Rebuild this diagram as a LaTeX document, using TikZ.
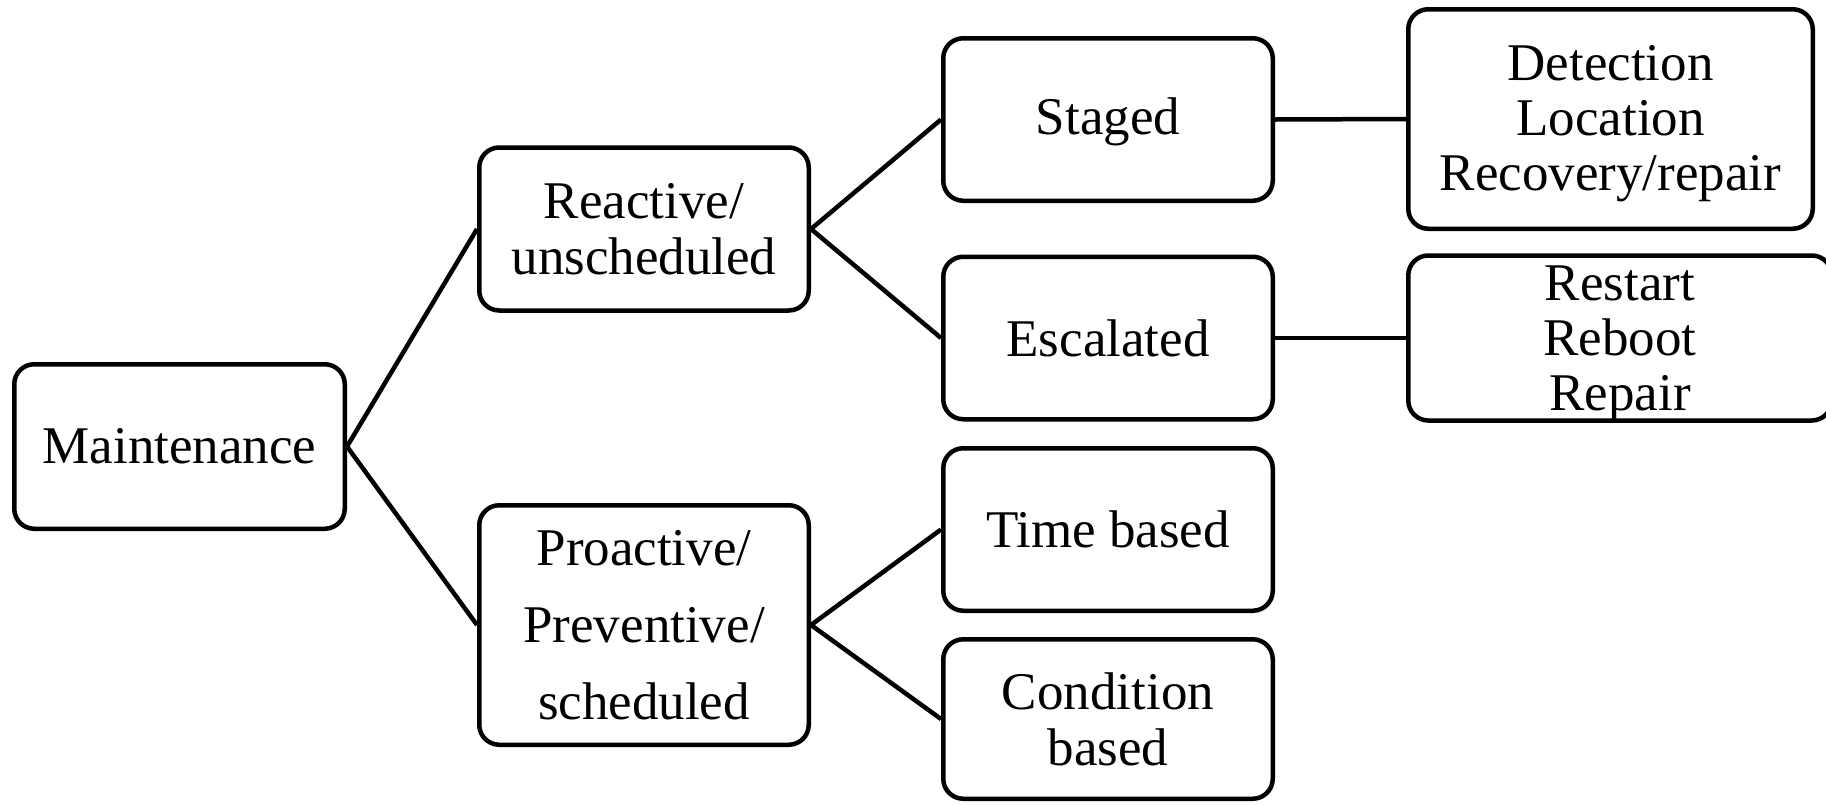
\documentclass[tikz,border=0pt]{standalone}
\usepackage{fontspec}
\setmainfont{Liberation Serif}
\begin{document}
\begin{tikzpicture}[x=1pt,y=-1pt,
  box/.style={draw=black, line width=4.5pt, rounded corners=20pt, fill=white,
    align=center, inner sep=0pt, font=\fontsize{53}{56}\selectfont,
    minimum width=329.5pt, minimum height=163pt},
  link/.style={draw=black, line width=4.5pt}]
  \useasboundingbox (0,0) rectangle (1826,804);
  \clip (0,0) rectangle (1826,804);

  % root and first level
  \node[box, minimum width=330.5pt, minimum height=164.5pt] (maint) at (179.5,446.5) {Maintenance};
  \node[box] (react) at (644,229) {Reactive/\\unscheduled};
  \node[box, minimum height=239.5pt] (proact) at (644,625)
    {Proactive/\\[21pt]Preventive/\\[21pt]scheduled};

  % second level
  \node[box, minimum height=162.5pt] (staged) at (1108,119.5) {\raisebox{-2pt}[\height][\depth]{Staged}};
  \node[box, minimum height=162.5pt] (escal) at (1108,338) {Escalated};
  \node[box, minimum height=162.5pt] (time) at (1108,529.5) {Time based};
  \node[box, minimum height=159.5pt] (cond) at (1108,719) {Condition\\based};

  % third level: text lowered a little inside the boxes
  \node[box, minimum width=404.5pt, minimum height=219.5pt, font=\fontsize{53}{55}\selectfont]
    (steps) at (1610.5,119) {\raisebox{-5pt}[\height][\depth]{\begin{tabular}{@{}c@{}}Detection\\Location\\Recovery/repair\end{tabular}}};
  \node[box, minimum width=423.5pt, minimum height=163.5pt, font=\fontsize{53}{55}\selectfont]
    (actions) at (1620,338) {\raisebox{-6pt}[\height][\depth]{\begin{tabular}{@{}c@{}}Restart\\Reboot\\Repair\end{tabular}}};

  % connectors
  \draw[link] (maint.east) -- (react.west);
  \draw[link] (maint.east) -- (proact.west);
  \draw[link] (react.east) -- (staged.west);
  \draw[link] (react.east) -- (escal.west);
  \draw[link] (proact.east) -- (time.west);
  \draw[link] (proact.east) -- (cond.west);
  \draw[link] (staged.east) -- (steps.west);
  \draw[link] (escal.east) -- (actions.west);
\end{tikzpicture}
\end{document}
